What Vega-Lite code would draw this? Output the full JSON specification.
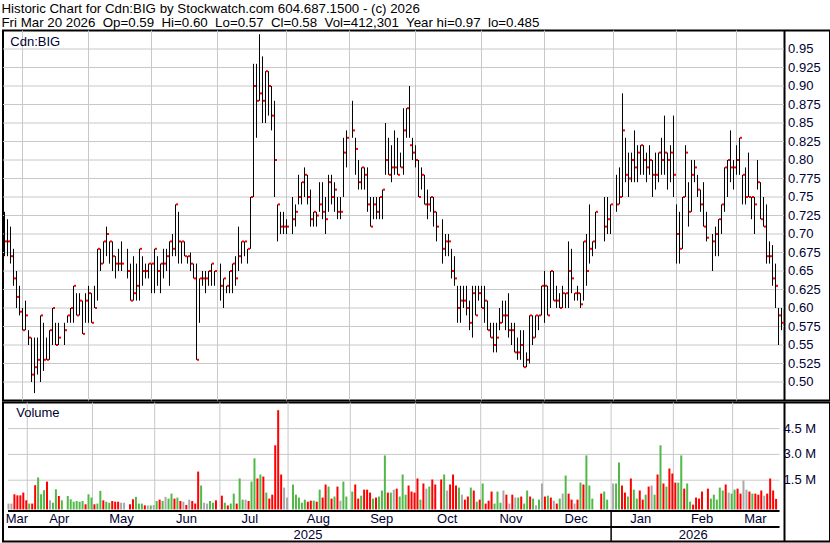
{
"$schema": "https://vega.github.io/schema/vega-lite/v6.json",
"background": "white",
"padding": {"left": 1, "right": 2, "top": 1.5, "bottom": 1},
"spacing": 2,
"bounds": "flush",
"title": {"text": ["Historic Chart for Cdn:BIG by Stockwatch.com 604.687.1500 - (c) 2026", "Fri Mar 20 2026\u00a0 Op=0.59\u00a0 Hi=0.60\u00a0 Lo=0.57\u00a0 Cl=0.58\u00a0 Vol=412,301\u00a0 Year hi=0.97\u00a0 lo=0.485"], "anchor": "start", "font": "Liberation Sans", "fontSize": 13.3, "fontWeight": "normal", "color": "black", "lineHeight": 14, "offset": 0},
"config": {"font": "Liberation Sans", "view": {"stroke": "black", "strokeWidth": 2}, "axis": {"labelOverlap": false}},
"datasets": {
"px": [
{"k":0,"h":0.73,"l":0.67,"c":0.69,"v":140000,"d":"f"},
{"k":1,"h":0.72,"l":0.67,"c":0.69,"v":140000,"d":"f"},
{"k":2,"h":0.71,"l":0.66,"c":0.67,"v":680000,"d":"dn"},
{"k":3,"h":0.68,"l":0.63,"c":0.64,"v":620000,"d":"dn"},
{"k":4,"h":0.65,"l":0.60,"c":0.615,"v":620000,"d":"dn"},
{"k":5,"h":0.63,"l":0.59,"c":0.595,"v":780000,"d":"dn"},
{"k":6,"h":0.60,"l":0.57,"c":0.57,"v":330000,"d":"dn"},
{"k":7,"h":0.61,"l":0.57,"c":0.59,"v":140000,"d":"up"},
{"k":8,"h":0.57,"l":0.55,"c":0.56,"v":140000,"d":"dn"},
{"k":9,"h":0.56,"l":0.50,"c":0.51,"v":1210000,"d":"dn"},
{"k":10,"h":0.56,"l":0.485,"c":0.52,"v":1660000,"d":"up"},
{"k":11,"h":0.56,"l":0.51,"c":0.53,"v":680000,"d":"up"},
{"k":12,"h":0.59,"l":0.50,"c":0.59,"v":920000,"d":"up"},
{"k":13,"h":0.58,"l":0.515,"c":0.53,"v":1420000,"d":"dn"},
{"k":14,"h":0.56,"l":0.53,"c":0.53,"v":330000,"d":"f"},
{"k":15,"h":0.57,"l":0.53,"c":0.57,"v":190000,"d":"up"},
{"k":16,"h":0.60,"l":0.55,"c":0.60,"v":970000,"d":"up"},
{"k":17,"h":0.58,"l":0.55,"c":0.55,"v":580000,"d":"dn"},
{"k":18,"h":0.58,"l":0.55,"c":0.56,"v":330000,"d":"up"},
{"k":20,"h":0.58,"l":0.55,"c":0.57,"v":580000,"d":"up"},
{"k":21,"h":0.59,"l":0.58,"c":0.59,"v":390000,"d":"up"},
{"k":22,"h":0.60,"l":0.58,"c":0.60,"v":250000,"d":"up"},
{"k":23,"h":0.63,"l":0.58,"c":0.63,"v":290000,"d":"up"},
{"k":24,"h":0.62,"l":0.59,"c":0.59,"v":250000,"d":"up"},
{"k":25,"h":0.62,"l":0.59,"c":0.61,"v":290000,"d":"up"},
{"k":26,"h":0.61,"l":0.565,"c":0.565,"v":100000,"d":"dn"},
{"k":27,"h":0.62,"l":0.58,"c":0.61,"v":680000,"d":"up"},
{"k":28,"h":0.63,"l":0.58,"c":0.62,"v":490000,"d":"up"},
{"k":29,"h":0.62,"l":0.58,"c":0.58,"v":100000,"d":"dn"},
{"k":30,"h":0.63,"l":0.60,"c":0.60,"v":140000,"d":"up"},
{"k":31,"h":0.68,"l":0.61,"c":0.68,"v":880000,"d":"up"},
{"k":32,"h":0.68,"l":0.65,"c":0.66,"v":330000,"d":"dn"},
{"k":33,"h":0.69,"l":0.66,"c":0.69,"v":250000,"d":"up"},
{"k":34,"h":0.71,"l":0.67,"c":0.70,"v":190000,"d":"up"},
{"k":35,"h":0.69,"l":0.66,"c":0.69,"v":290000,"d":"dn"},
{"k":36,"h":0.69,"l":0.65,"c":0.67,"v":250000,"d":"dn"},
{"k":37,"h":0.67,"l":0.64,"c":0.66,"v":250000,"d":"dn"},
{"k":38,"h":0.68,"l":0.65,"c":0.66,"v":190000,"d":"f"},
{"k":39,"h":0.69,"l":0.65,"c":0.66,"v":190000,"d":"f"},
{"k":41,"h":0.68,"l":0.64,"c":0.65,"v":100000,"d":"dn"},
{"k":42,"h":0.66,"l":0.61,"c":0.61,"v":390000,"d":"dn"},
{"k":43,"h":0.67,"l":0.61,"c":0.62,"v":530000,"d":"up"},
{"k":44,"h":0.66,"l":0.61,"c":0.63,"v":140000,"d":"up"},
{"k":45,"h":0.68,"l":0.61,"c":0.68,"v":140000,"d":"up"},
{"k":46,"h":0.67,"l":0.63,"c":0.65,"v":40000,"d":"dn"},
{"k":47,"h":0.66,"l":0.64,"c":0.65,"v":30000,"d":"f"},
{"k":48,"h":0.66,"l":0.64,"c":0.66,"v":30000,"d":"up"},
{"k":49,"h":0.66,"l":0.62,"c":0.66,"v":60000,"d":"f"},
{"k":50,"h":0.68,"l":0.62,"c":0.68,"v":290000,"d":"up"},
{"k":51,"h":0.67,"l":0.63,"c":0.65,"v":370000,"d":"dn"},
{"k":52,"h":0.66,"l":0.62,"c":0.66,"v":290000,"d":"up"},
{"k":53,"h":0.68,"l":0.64,"c":0.66,"v":530000,"d":"f"},
{"k":54,"h":0.68,"l":0.65,"c":0.67,"v":430000,"d":"up"},
{"k":55,"h":0.69,"l":0.63,"c":0.69,"v":720000,"d":"up"},
{"k":56,"h":0.70,"l":0.67,"c":0.68,"v":430000,"d":"dn"},
{"k":57,"h":0.74,"l":0.67,"c":0.74,"v":490000,"d":"up"},
{"k":58,"h":0.73,"l":0.66,"c":0.69,"v":290000,"d":"dn"},
{"k":59,"h":0.69,"l":0.66,"c":0.69,"v":250000,"d":"f"},
{"k":60,"h":0.69,"l":0.67,"c":0.67,"v":60000,"d":"dn"},
{"k":61,"h":0.67,"l":0.66,"c":0.67,"v":370000,"d":"f"},
{"k":62,"h":0.675,"l":0.65,"c":0.66,"v":290000,"d":"dn"},
{"k":63,"h":0.66,"l":0.64,"c":0.64,"v":140000,"d":"dn"},
{"k":64,"h":0.66,"l":0.53,"c":0.53,"v":2000000,"d":"dn"},
{"k":65,"h":0.64,"l":0.58,"c":0.64,"v":1190000,"d":"up"},
{"k":66,"h":0.65,"l":0.63,"c":0.64,"v":190000,"d":"f"},
{"k":67,"h":0.65,"l":0.62,"c":0.64,"v":140000,"d":"f"},
{"k":68,"h":0.65,"l":0.63,"c":0.65,"v":290000,"d":"up"},
{"k":69,"h":0.66,"l":0.63,"c":0.66,"v":190000,"d":"up"},
{"k":70,"h":0.65,"l":0.63,"c":0.65,"v":330000,"d":"dn"},
{"k":72,"h":0.66,"l":0.61,"c":0.63,"v":600000,"d":"dn"},
{"k":73,"h":0.64,"l":0.60,"c":0.64,"v":190000,"d":"up"},
{"k":74,"h":0.63,"l":0.62,"c":0.63,"v":30000,"d":"dn"},
{"k":75,"h":0.65,"l":0.62,"c":0.65,"v":140000,"d":"up"},
{"k":76,"h":0.66,"l":0.62,"c":0.66,"v":720000,"d":"up"},
{"k":77,"h":0.67,"l":0.63,"c":0.64,"v":140000,"d":"dn"},
{"k":78,"h":0.71,"l":0.65,"c":0.67,"v":1600000,"d":"up"},
{"k":79,"h":0.69,"l":0.66,"c":0.69,"v":370000,"d":"up"},
{"k":80,"h":0.69,"l":0.67,"c":0.69,"v":370000,"d":"f"},
{"k":81,"h":0.68,"l":0.66,"c":0.68,"v":290000,"d":"dn"},
{"k":82,"h":0.75,"l":0.68,"c":0.75,"v":1420000,"d":"up"},
{"k":83,"h":0.93,"l":0.75,"c":0.90,"v":2770000,"d":"up"},
{"k":84,"h":0.93,"l":0.83,"c":0.88,"v":1600000,"d":"dn"},
{"k":85,"h":0.97,"l":0.88,"c":0.89,"v":1830000,"d":"up"},
{"k":86,"h":0.94,"l":0.85,"c":0.88,"v":1710000,"d":"dn"},
{"k":87,"h":0.92,"l":0.85,"c":0.92,"v":780000,"d":"up"},
{"k":88,"h":0.92,"l":0.86,"c":0.90,"v":430000,"d":"dn"},
{"k":89,"h":0.90,"l":0.84,"c":0.86,"v":660000,"d":"dn"},
{"k":90,"h":0.88,"l":0.75,"c":0.80,"v":3530000,"d":"dn"},
{"k":91,"h":0.74,"l":0.69,"c":0.74,"v":5570000,"d":"dn"},
{"k":92,"h":0.73,"l":0.70,"c":0.71,"v":1830000,"d":"dn"},
{"k":93,"h":0.73,"l":0.70,"c":0.71,"v":1070000,"d":"f"},
{"k":94,"h":0.72,"l":0.70,"c":0.71,"v":490000,"d":"f"},
{"k":96,"h":0.75,"l":0.70,"c":0.72,"v":1250000,"d":"up"},
{"k":97,"h":0.74,"l":0.71,"c":0.73,"v":660000,"d":"up"},
{"k":98,"h":0.78,"l":0.74,"c":0.75,"v":490000,"d":"up"},
{"k":99,"h":0.77,"l":0.74,"c":0.77,"v":190000,"d":"up"},
{"k":100,"h":0.79,"l":0.75,"c":0.78,"v":370000,"d":"up"},
{"k":101,"h":0.78,"l":0.74,"c":0.75,"v":250000,"d":"dn"},
{"k":102,"h":0.76,"l":0.71,"c":0.72,"v":310000,"d":"dn"},
{"k":103,"h":0.73,"l":0.71,"c":0.73,"v":310000,"d":"up"},
{"k":104,"h":0.73,"l":0.71,"c":0.725,"v":250000,"d":"dn"},
{"k":105,"h":0.77,"l":0.73,"c":0.74,"v":950000,"d":"up"},
{"k":106,"h":0.77,"l":0.72,"c":0.73,"v":490000,"d":"dn"},
{"k":107,"h":0.75,"l":0.70,"c":0.72,"v":1250000,"d":"dn"},
{"k":108,"h":0.78,"l":0.73,"c":0.77,"v":1130000,"d":"up"},
{"k":109,"h":0.78,"l":0.74,"c":0.75,"v":430000,"d":"dn"},
{"k":110,"h":0.77,"l":0.73,"c":0.76,"v":550000,"d":"up"},
{"k":111,"h":0.75,"l":0.72,"c":0.73,"v":1130000,"d":"dn"},
{"k":112,"h":0.75,"l":0.72,"c":0.73,"v":310000,"d":"f"},
{"k":113,"h":0.83,"l":0.75,"c":0.81,"v":1420000,"d":"up"},
{"k":114,"h":0.84,"l":0.79,"c":0.83,"v":550000,"d":"up"},
{"k":116,"h":0.88,"l":0.83,"c":0.84,"v":840000,"d":"up"},
{"k":117,"h":0.83,"l":0.78,"c":0.815,"v":1250000,"d":"dn"},
{"k":118,"h":0.80,"l":0.76,"c":0.77,"v":430000,"d":"dn"},
{"k":119,"h":0.79,"l":0.76,"c":0.79,"v":600000,"d":"up"},
{"k":120,"h":0.79,"l":0.76,"c":0.78,"v":950000,"d":"dn"},
{"k":121,"h":0.79,"l":0.73,"c":0.74,"v":950000,"d":"dn"},
{"k":122,"h":0.75,"l":0.71,"c":0.71,"v":780000,"d":"dn"},
{"k":123,"h":0.75,"l":0.72,"c":0.74,"v":430000,"d":"up"},
{"k":124,"h":0.75,"l":0.72,"c":0.73,"v":490000,"d":"dn"},
{"k":125,"h":0.75,"l":0.72,"c":0.75,"v":550000,"d":"up"},
{"k":126,"h":0.76,"l":0.72,"c":0.76,"v":900000,"d":"up"},
{"k":127,"h":0.85,"l":0.78,"c":0.80,"v":2940000,"d":"up"},
{"k":128,"h":0.83,"l":0.78,"c":0.78,"v":780000,"d":"dn"},
{"k":129,"h":0.82,"l":0.77,"c":0.79,"v":780000,"d":"up"},
{"k":130,"h":0.84,"l":0.78,"c":0.79,"v":950000,"d":"f"},
{"k":131,"h":0.83,"l":0.78,"c":0.78,"v":1010000,"d":"dn"},
{"k":132,"h":0.81,"l":0.79,"c":0.79,"v":550000,"d":"up"},
{"k":133,"h":0.87,"l":0.78,"c":0.84,"v":1830000,"d":"up"},
{"k":134,"h":0.87,"l":0.83,"c":0.87,"v":660000,"d":"up"},
{"k":135,"h":0.90,"l":0.83,"c":0.82,"v":1190000,"d":"dn"},
{"k":136,"h":0.83,"l":0.80,"c":0.81,"v":840000,"d":"dn"},
{"k":137,"h":0.82,"l":0.79,"c":0.80,"v":780000,"d":"dn"},
{"k":138,"h":0.80,"l":0.75,"c":0.75,"v":1600000,"d":"dn"},
{"k":139,"h":0.79,"l":0.76,"c":0.78,"v":370000,"d":"up"},
{"k":140,"h":0.78,"l":0.74,"c":0.74,"v":1310000,"d":"dn"},
{"k":141,"h":0.76,"l":0.72,"c":0.74,"v":1010000,"d":"f"},
{"k":142,"h":0.75,"l":0.73,"c":0.75,"v":1130000,"d":"up"},
{"k":143,"h":0.75,"l":0.71,"c":0.73,"v":1540000,"d":"dn"},
{"k":144,"h":0.73,"l":0.69,"c":0.71,"v":1250000,"d":"dn"},
{"k":146,"h":0.72,"l":0.66,"c":0.68,"v":1540000,"d":"dn"},
{"k":147,"h":0.70,"l":0.67,"c":0.69,"v":1830000,"d":"up"},
{"k":148,"h":0.70,"l":0.67,"c":0.69,"v":900000,"d":"f"},
{"k":149,"h":0.68,"l":0.64,"c":0.65,"v":1250000,"d":"dn"},
{"k":150,"h":0.67,"l":0.63,"c":0.64,"v":1830000,"d":"dn"},
{"k":151,"h":0.63,"l":0.58,"c":0.60,"v":1190000,"d":"dn"},
{"k":152,"h":0.63,"l":0.58,"c":0.61,"v":1070000,"d":"up"},
{"k":153,"h":0.63,"l":0.60,"c":0.61,"v":660000,"d":"f"},
{"k":154,"h":0.63,"l":0.59,"c":0.60,"v":370000,"d":"dn"},
{"k":155,"h":0.61,"l":0.57,"c":0.58,"v":550000,"d":"dn"},
{"k":156,"h":0.63,"l":0.56,"c":0.62,"v":1070000,"d":"up"},
{"k":157,"h":0.63,"l":0.59,"c":0.59,"v":900000,"d":"dn"},
{"k":158,"h":0.63,"l":0.61,"c":0.62,"v":250000,"d":"up"},
{"k":159,"h":0.63,"l":0.60,"c":0.60,"v":370000,"d":"dn"},
{"k":160,"h":0.63,"l":0.58,"c":0.61,"v":1310000,"d":"up"},
{"k":161,"h":0.61,"l":0.57,"c":0.57,"v":140000,"d":"dn"},
{"k":162,"h":0.58,"l":0.56,"c":0.56,"v":310000,"d":"dn"},
{"k":163,"h":0.58,"l":0.54,"c":0.55,"v":840000,"d":"dn"},
{"k":164,"h":0.58,"l":0.54,"c":0.56,"v":140000,"d":"up"},
{"k":165,"h":0.60,"l":0.57,"c":0.58,"v":840000,"d":"up"},
{"k":166,"h":0.61,"l":0.58,"c":0.59,"v":190000,"d":"up"},
{"k":167,"h":0.61,"l":0.57,"c":0.59,"v":900000,"d":"f"},
{"k":168,"h":0.62,"l":0.56,"c":0.57,"v":660000,"d":"dn"},
{"k":169,"h":0.58,"l":0.55,"c":0.57,"v":140000,"d":"f"},
{"k":170,"h":0.58,"l":0.54,"c":0.54,"v":660000,"d":"dn"},
{"k":171,"h":0.56,"l":0.53,"c":0.54,"v":490000,"d":"f"},
{"k":172,"h":0.57,"l":0.53,"c":0.55,"v":490000,"d":"up"},
{"k":173,"h":0.57,"l":0.52,"c":0.52,"v":550000,"d":"dn"},
{"k":174,"h":0.54,"l":0.52,"c":0.53,"v":140000,"d":"up"},
{"k":175,"h":0.59,"l":0.525,"c":0.59,"v":900000,"d":"up"},
{"k":176,"h":0.59,"l":0.55,"c":0.56,"v":550000,"d":"dn"},
{"k":177,"h":0.59,"l":0.56,"c":0.59,"v":430000,"d":"up"},
{"k":178,"h":0.59,"l":0.57,"c":0.59,"v":40000,"d":"f"},
{"k":179,"h":0.63,"l":0.59,"c":0.63,"v":370000,"d":"up"},
{"k":180,"h":0.65,"l":0.58,"c":0.63,"v":1310000,"d":"f"},
{"k":181,"h":0.63,"l":0.59,"c":0.59,"v":550000,"d":"dn"},
{"k":182,"h":0.65,"l":0.60,"c":0.65,"v":600000,"d":"up"},
{"k":183,"h":0.65,"l":0.61,"c":0.61,"v":490000,"d":"dn"},
{"k":184,"h":0.63,"l":0.60,"c":0.61,"v":310000,"d":"f"},
{"k":185,"h":0.62,"l":0.60,"c":0.60,"v":140000,"d":"dn"},
{"k":186,"h":0.63,"l":0.60,"c":0.62,"v":430000,"d":"up"},
{"k":187,"h":0.62,"l":0.60,"c":0.62,"v":720000,"d":"f"},
{"k":188,"h":0.69,"l":0.60,"c":0.65,"v":1770000,"d":"up"},
{"k":189,"h":0.68,"l":0.62,"c":0.64,"v":720000,"d":"dn"},
{"k":190,"h":0.62,"l":0.61,"c":0.62,"v":370000,"d":"dn"},
{"k":191,"h":0.63,"l":0.61,"c":0.62,"v":140000,"d":"f"},
{"k":192,"h":0.62,"l":0.60,"c":0.605,"v":370000,"d":"dn"},
{"k":193,"h":0.69,"l":0.61,"c":0.69,"v":1360000,"d":"up"},
{"k":194,"h":0.70,"l":0.63,"c":0.65,"v":1250000,"d":"dn"},
{"k":195,"h":0.74,"l":0.66,"c":0.68,"v":2940000,"d":"up"},
{"k":196,"h":0.69,"l":0.67,"c":0.69,"v":1190000,"d":"up"},
{"k":197,"h":0.73,"l":0.68,"c":0.73,"v":430000,"d":"up"},
{"k":200,"h":0.75,"l":0.69,"c":0.71,"v":720000,"d":"dn"},
{"k":201,"h":0.75,"l":0.70,"c":0.72,"v":840000,"d":"up"},
{"k":202,"h":0.74,"l":0.70,"c":0.74,"v":370000,"d":"up"},
{"k":204,"h":0.78,"l":0.73,"c":0.74,"v":1310000,"d":"f"},
{"k":205,"h":0.79,"l":0.74,"c":0.75,"v":1310000,"d":"up"},
{"k":206,"h":0.89,"l":0.75,"c":0.84,"v":2530000,"d":"up"},
{"k":207,"h":0.83,"l":0.77,"c":0.78,"v":1190000,"d":"dn"},
{"k":208,"h":0.81,"l":0.75,"c":0.775,"v":780000,"d":"dn"},
{"k":209,"h":0.81,"l":0.77,"c":0.80,"v":550000,"d":"up"},
{"k":210,"h":0.84,"l":0.77,"c":0.79,"v":1600000,"d":"dn"},
{"k":211,"h":0.82,"l":0.77,"c":0.81,"v":950000,"d":"up"},
{"k":212,"h":0.82,"l":0.78,"c":0.82,"v":430000,"d":"up"},
{"k":213,"h":0.82,"l":0.78,"c":0.80,"v":900000,"d":"dn"},
{"k":214,"h":0.81,"l":0.77,"c":0.79,"v":370000,"d":"dn"},
{"k":215,"h":0.82,"l":0.78,"c":0.80,"v":660000,"d":"up"},
{"k":216,"h":0.80,"l":0.75,"c":0.78,"v":1130000,"d":"dn"},
{"k":217,"h":0.81,"l":0.76,"c":0.78,"v":1190000,"d":"f"},
{"k":218,"h":0.81,"l":0.77,"c":0.81,"v":660000,"d":"up"},
{"k":219,"h":0.83,"l":0.78,"c":0.80,"v":1830000,"d":"dn"},
{"k":220,"h":0.86,"l":0.78,"c":0.81,"v":3530000,"d":"up"},
{"k":221,"h":0.81,"l":0.76,"c":0.80,"v":1310000,"d":"dn"},
{"k":222,"h":0.82,"l":0.77,"c":0.81,"v":1130000,"d":"up"},
{"k":223,"h":0.86,"l":0.75,"c":0.78,"v":2180000,"d":"dn"},
{"k":224,"h":0.74,"l":0.66,"c":0.70,"v":1890000,"d":"dn"},
{"k":225,"h":0.73,"l":0.66,"c":0.68,"v":1360000,"d":"dn"},
{"k":226,"h":0.75,"l":0.68,"c":0.75,"v":1360000,"d":"up"},
{"k":227,"h":0.82,"l":0.75,"c":0.81,"v":2940000,"d":"up"},
{"k":228,"h":0.77,"l":0.71,"c":0.73,"v":1010000,"d":"dn"},
{"k":229,"h":0.80,"l":0.73,"c":0.78,"v":1310000,"d":"up"},
{"k":230,"h":0.80,"l":0.77,"c":0.79,"v":250000,"d":"up"},
{"k":231,"h":0.78,"l":0.75,"c":0.76,"v":80000,"d":"dn"},
{"k":232,"h":0.76,"l":0.73,"c":0.74,"v":490000,"d":"dn"},
{"k":233,"h":0.77,"l":0.71,"c":0.71,"v":430000,"d":"dn"},
{"k":234,"h":0.73,"l":0.69,"c":0.695,"v":840000,"d":"dn"},
{"k":236,"h":0.70,"l":0.65,"c":0.69,"v":1010000,"d":"dn"},
{"k":237,"h":0.71,"l":0.67,"c":0.70,"v":430000,"d":"up"},
{"k":238,"h":0.72,"l":0.67,"c":0.72,"v":660000,"d":"up"},
{"k":239,"h":0.74,"l":0.70,"c":0.74,"v":370000,"d":"up"},
{"k":240,"h":0.79,"l":0.73,"c":0.79,"v":1070000,"d":"up"},
{"k":241,"h":0.80,"l":0.75,"c":0.80,"v":900000,"d":"up"},
{"k":242,"h":0.84,"l":0.77,"c":0.79,"v":1250000,"d":"dn"},
{"k":243,"h":0.80,"l":0.76,"c":0.79,"v":780000,"d":"f"},
{"k":244,"h":0.82,"l":0.78,"c":0.80,"v":720000,"d":"up"},
{"k":245,"h":0.83,"l":0.78,"c":0.83,"v":950000,"d":"up"},
{"k":246,"h":0.78,"l":0.74,"c":0.78,"v":1010000,"d":"dn"},
{"k":247,"h":0.79,"l":0.74,"c":0.75,"v":720000,"d":"dn"},
{"k":248,"h":0.81,"l":0.75,"c":0.75,"v":1480000,"d":"f"},
{"k":249,"h":0.75,"l":0.72,"c":0.75,"v":950000,"d":"f"},
{"k":250,"h":0.75,"l":0.70,"c":0.74,"v":840000,"d":"dn"},
{"k":251,"h":0.80,"l":0.76,"c":0.77,"v":720000,"d":"up"},
{"k":252,"h":0.77,"l":0.72,"c":0.72,"v":720000,"d":"dn"},
{"k":253,"h":0.75,"l":0.71,"c":0.71,"v":660000,"d":"dn"},
{"k":254,"h":0.74,"l":0.66,"c":0.67,"v":900000,"d":"dn"},
{"k":255,"h":0.69,"l":0.66,"c":0.67,"v":600000,"d":"f"},
{"k":256,"h":0.685,"l":0.63,"c":0.64,"v":720000,"d":"dn"},
{"k":257,"h":0.66,"l":0.60,"c":0.63,"v":1600000,"d":"dn"},
{"k":258,"h":0.60,"l":0.55,"c":0.59,"v":900000,"d":"dn"},
{"k":259,"h":0.60,"l":0.57,"c":0.58,"v":412301,"d":"dn"}
],
"mgrid": [{"k":6},{"k":28},{"k":49},{"k":71},{"k":94},{"k":115},{"k":137},{"k":159},{"k":180},{"k":203},{"k":224},{"k":244}],
"mlab": [{"m":"Mar","k":2.5},{"m":"Apr","k":16.8},{"m":"May","k":37.8},{"m":"Jun","k":59.7},{"m":"Jul","k":81.1},{"m":"Aug","k":104.2},{"m":"Sep","k":125.6},{"m":"Oct","k":147.7},{"m":"Nov","k":169.2},{"m":"Dec","k":191.2},{"m":"Jan","k":213},{"m":"Feb","k":233.7},{"m":"Mar","k":251.7}],
"years": [{"y":"2025","k":100.7},{"y":"2026","k":230.7}],
"pgrid": [{"p":0.5,"lab":"0.50"},{"p":0.525,"lab":"0.525"},{"p":0.55,"lab":"0.55"},{"p":0.575,"lab":"0.575"},{"p":0.6,"lab":"0.60"},{"p":0.625,"lab":"0.625"},{"p":0.65,"lab":"0.65"},{"p":0.675,"lab":"0.675"},{"p":0.7,"lab":"0.70"},{"p":0.725,"lab":"0.725"},{"p":0.75,"lab":"0.75"},{"p":0.775,"lab":"0.775"},{"p":0.8,"lab":"0.80"},{"p":0.825,"lab":"0.825"},{"p":0.85,"lab":"0.85"},{"p":0.875,"lab":"0.875"},{"p":0.9,"lab":"0.90"},{"p":0.925,"lab":"0.925"},{"p":0.95,"lab":"0.95"}],
"vgrid": [{"v":1500000,"lab":"1.5 M"},{"v":3000000,"lab":"3.0 M"},{"v":4500000,"lab":"4.5 M"}]
},
"vconcat": [
{
"width": 827, "height": 370,
"layer": [
{"data": {"name": "pgrid"}, "mark": {"type": "rule", "color": "#c8c8c8", "strokeWidth": 1},
 "encoding": {
  "y": {"field": "p", "type": "quantitative", "scale": {"domain": [0.475, 0.975], "nice": false, "zero": false},
   "axis": {"orient": "right", "offset": -46, "labels": false, "grid": false, "ticks": false, "domain": true, "domainColor": "black", "domainWidth": 2, "title": null}},
  "x": {"datum": -0.5, "type": "quantitative", "scale": {"domain": [-0.5, 275.167], "nice": false, "zero": false}, "axis": null},
  "x2": {"datum": 259.83}}},
{"data": {"name": "pgrid"}, "mark": {"type": "text", "align": "left", "baseline": "middle", "fontSize": 13, "color": "#000033"},
 "encoding": {"x": {"datum": 261.2, "type": "quantitative"}, "y": {"field": "p", "type": "quantitative"}, "text": {"field": "lab"}}},
{"data": {"name": "mgrid"}, "mark": {"type": "rule", "color": "#c8c8c8", "strokeWidth": 1},
 "encoding": {"x": {"field": "k", "type": "quantitative"}}},
{"data": {"name": "px"}, "mark": {"type": "rule", "color": "black", "strokeWidth": 1},
 "encoding": {"x": {"field": "k", "type": "quantitative"}, "y": {"field": "l", "type": "quantitative"}, "y2": {"field": "h"}}},
{"data": {"name": "px"}, "mark": {"type": "tick", "orient": "horizontal", "color": "#ff0000", "size": 2, "thickness": 2, "xOffset": 1.5, "opacity": 1},
 "encoding": {"x": {"field": "k", "type": "quantitative"}, "y": {"field": "c", "type": "quantitative"}}},
{"data": {"values": [{"t": "Cdn:BIG"}]}, "mark": {"type": "text", "align": "left", "baseline": "middle", "fontSize": 13, "color": "#000033"},
 "encoding": {"x": {"datum": 1.93, "type": "quantitative"}, "y": {"datum": 0.96, "type": "quantitative"}, "text": {"field": "t"}}}
]
},
{
"width": 827, "height": 139,
"layer": [
{"data": {"name": "vgrid"}, "mark": {"type": "rule", "color": "#c8c8c8", "strokeWidth": 1},
 "encoding": {
  "y": {"field": "v", "type": "quantitative", "scale": {"domain": [-2064000, 6017000], "nice": false, "zero": false},
   "axis": {"orient": "right", "offset": -46, "labels": false, "grid": false, "ticks": false, "domain": true, "domainColor": "black", "domainWidth": 2, "title": null}},
  "x": {"datum": -0.5, "type": "quantitative", "scale": {"domain": [-0.5, 275.167], "nice": false, "zero": false}, "axis": null},
  "x2": {"datum": 259.83}}},
{"data": {"name": "vgrid"}, "mark": {"type": "text", "align": "left", "baseline": "middle", "fontSize": 13, "color": "#000033"},
 "encoding": {"x": {"datum": 261.2, "type": "quantitative"}, "y": {"field": "v", "type": "quantitative"}, "text": {"field": "lab"}}},
{"data": {"name": "mgrid"}, "mark": {"type": "rule", "color": "#c8c8c8", "strokeWidth": 1},
 "encoding": {"x": {"field": "k", "type": "quantitative"}, "y": {"datum": 6017000, "type": "quantitative"}, "y2": {"datum": -290000}}},
{"data": {"name": "px"}, "mark": {"type": "bar", "size": 2, "xOffset": -1},
 "encoding": {"x": {"field": "k", "type": "quantitative"}, "y": {"field": "v", "type": "quantitative"}, "y2": {"datum": -200000},
  "color": {"field": "d", "type": "nominal", "scale": {"domain": ["up", "dn", "f"], "range": ["#52b848", "#ff0000", "#a9a9a9"]}, "legend": null}}},
{"data": {"values": [{"t": "Volume"}]}, "mark": {"type": "text", "align": "left", "baseline": "middle", "fontSize": 13, "color": "#000033"},
 "encoding": {"x": {"datum": 2.27, "type": "quantitative"}, "y": {"datum": 5390000, "type": "quantitative"}, "text": {"field": "t"}}},
{"data": {"values": [{}]}, "mark": {"type": "rule", "color": "black", "strokeWidth": 2},
 "encoding": {"x": {"datum": -0.5, "type": "quantitative"}, "x2": {"datum": 259.83}, "y": {"datum": -290000, "type": "quantitative"}}},
{"data": {"values": [{}]}, "mark": {"type": "rule", "color": "black", "strokeWidth": 2},
 "encoding": {"x": {"datum": -0.5, "type": "quantitative"}, "x2": {"datum": 259.83}, "y": {"datum": -1221000, "type": "quantitative"}}},
{"data": {"values": [{}]}, "mark": {"type": "rule", "color": "black", "strokeWidth": 1.5},
 "encoding": {"x": {"datum": 203, "type": "quantitative"}, "y": {"datum": -290000, "type": "quantitative"}, "y2": {"datum": -2064000}}},
{"data": {"name": "mlab"}, "mark": {"type": "text", "align": "center", "baseline": "middle", "fontSize": 13, "color": "#000033"},
 "encoding": {"x": {"field": "k", "type": "quantitative"}, "y": {"datum": -756000, "type": "quantitative"}, "text": {"field": "m"}}},
{"data": {"name": "years"}, "mark": {"type": "text", "align": "center", "baseline": "middle", "fontSize": 13, "color": "#000033"},
 "encoding": {"x": {"field": "k", "type": "quantitative"}, "y": {"datum": -1686000, "type": "quantitative"}, "text": {"field": "y"}}}
]
}
]
}
